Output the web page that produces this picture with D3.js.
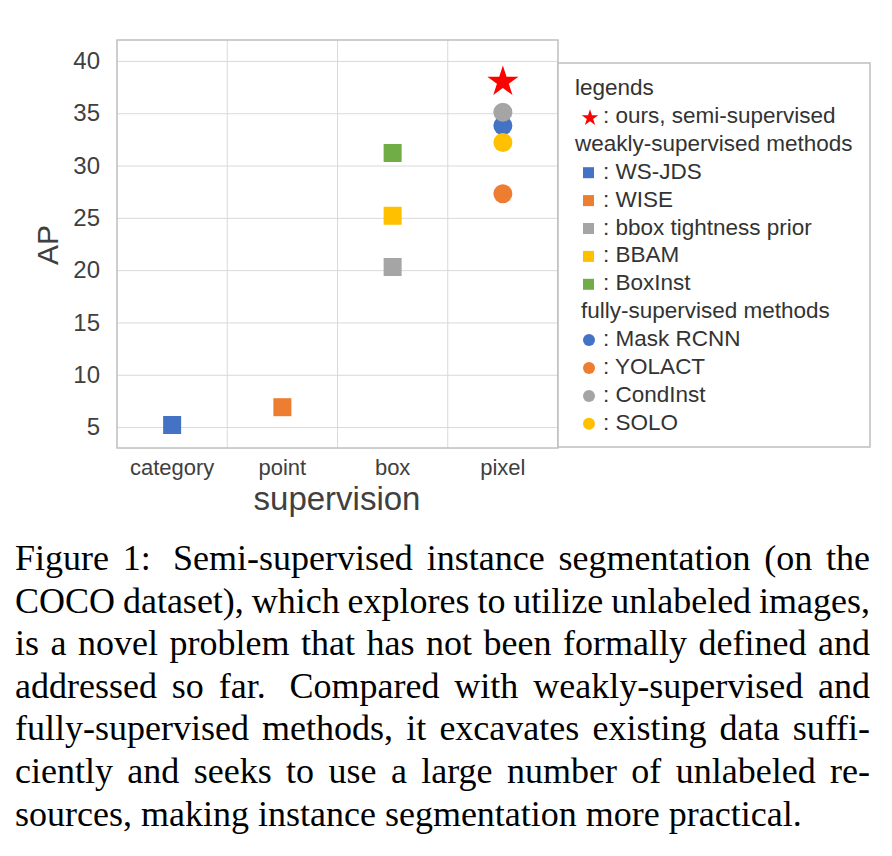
<!DOCTYPE html>
<html lang="en">
<head>
  <meta charset="UTF-8">
  <title>Supervision vs AP</title>
  <script src="https://d3js.org/d3.v7.min.js"></script>
  <style>
    body { margin: 0; background: white; }
    .sans { font-family: "Liberation Sans", Arial, sans-serif; }
    .serif { font-family: "Liberation Serif", "Times New Roman", serif; }
  </style>
</head>
<body>
<div id="chart"></div>
<script>
// supervision levels on the x axis
var categories = ["category", "point", "box", "pixel"];
var yTicks = [5, 10, 15, 20, 25, 30, 35, 40];

// weakly-supervised methods (squares)
var weakNames = ["WS-JDS", "WISE", "bbox tightness prior", "BBAM", "BoxInst"];
var weakSup = ["category", "point", "box", "box", "box"];
var weakAP = [5.2, 6.9, 20.3, 25.2, 31.2];
var weakColors = ["#4472C4", "#ED7D31", "#A5A5A5", "#FFC000", "#70AD47"];

// fully-supervised methods (circles)
var fullNames = ["Mask RCNN", "YOLACT", "CondInst", "SOLO"];
var fullSup = ["pixel", "pixel", "pixel", "pixel"];
var fullAP = [33.8, 27.3, 35.1, 32.2];
var fullColors = ["#4472C4", "#ED7D31", "#A5A5A5", "#FFC000"];

// ours (star)
var oursSup = "pixel";
var oursAP = 38.0;

var captionLines = [
  "Figure 1: Semi-supervised instance segmentation (on the",
  "COCO dataset), which explores to utilize unlabeled images,",
  "is a novel problem that has not been formally defined and",
  "addressed so far. Compared with weakly-supervised and",
  "fully-supervised methods, it excavates existing data suffi-",
  "ciently and seeks to use a large number of unlabeled re-",
  "sources, making instance segmentation more practical."
];

// plot area edges (window.top is reserved, so use other names)
var plotL = 117, plotR = 558, plotT = 40, plotB = 448;
var textColor = "#404040";

var svg = d3.select("#chart").append("svg")
  .attr("width", 892)
  .attr("height", 856);

var x = d3.scaleBand().domain(categories).range([plotL, plotR]);
var y = d3.scaleLinear().domain([3, 42]).range([plotB, plotT]);

// horizontal grid
var grid = svg.append("g")
  .attr("transform", "translate(" + plotL + ",0)")
  .call(d3.axisLeft(y).tickValues(yTicks).tickSize(-(plotR - plotL)).tickFormat(""));
grid.select(".domain").remove();
grid.selectAll("line").attr("stroke", "#D9D9D9").attr("stroke-width", 1);

// vertical grid between categories
svg.append("g").selectAll("line")
  .data(categories.slice(1))
  .enter().append("line")
    .attr("x1", function(d){ return x(d); })
    .attr("x2", function(d){ return x(d); })
    .attr("y1", plotT)
    .attr("y2", plotB)
    .attr("stroke", "#D9D9D9")
    .attr("stroke-width", 1);

// plot frame
svg.append("rect")
  .attr("x", plotL).attr("y", plotT)
  .attr("width", plotR - plotL).attr("height", plotB - plotT)
  .attr("fill", "none")
  .attr("stroke", "#BFBFBF")
  .attr("stroke-width", 1.5);

// y axis labels
var yAxis = svg.append("g")
  .attr("transform", "translate(" + plotL + ",0)")
  .call(d3.axisLeft(y).tickValues(yTicks).tickSize(0).tickPadding(17));
yAxis.select(".domain").remove();
yAxis.selectAll("text").attr("font-size", "24px").attr("fill", textColor)
  .style("font-family", "'Liberation Sans', Arial, sans-serif");

// x axis labels
var xAxis = svg.append("g")
  .attr("transform", "translate(0," + plotB + ")")
  .call(d3.axisBottom(x).tickSize(0).tickPadding(11));
xAxis.select(".domain").remove();
xAxis.selectAll("text").attr("font-size", "22px").attr("fill", textColor)
  .style("font-family", "'Liberation Sans', Arial, sans-serif");

// axis titles
svg.append("text")
  .attr("class", "sans")
  .attr("transform", "translate(58,245) rotate(-90)")
  .attr("text-anchor", "middle")
  .attr("font-size", "30px")
  .attr("fill", textColor)
  .text("AP");

svg.append("text")
  .attr("class", "sans")
  .attr("x", 337).attr("y", 510)
  .attr("text-anchor", "middle")
  .attr("font-size", "33px")
  .attr("fill", textColor)
  .text("supervision");

// markers
var sq = 18;
var weak = weakNames.map(function(n, i){ return {name: n, sup: weakSup[i], ap: weakAP[i], color: weakColors[i]}; });
svg.append("g").selectAll("rect")
  .data(weak)
  .enter().append("rect")
    .attr("x", function(d){ return x(d.sup) + x.bandwidth() / 2 - sq / 2; })
    .attr("y", function(d){ return y(d.ap) - sq / 2; })
    .attr("width", sq)
    .attr("height", sq)
    .attr("fill", function(d){ return d.color; });

var full = fullNames.map(function(n, i){ return {name: n, sup: fullSup[i], ap: fullAP[i], color: fullColors[i]}; });
svg.append("g").selectAll("circle")
  .data(full)
  .enter().append("circle")
    .attr("cx", function(d){ return x(d.sup) + x.bandwidth() / 2; })
    .attr("cy", function(d){ return y(d.ap); })
    .attr("r", 9.5)
    .attr("fill", function(d){ return d.color; });

svg.append("path")
  .attr("d", d3.symbol().type(d3.symbolStar).size(300)())
  .attr("transform", "translate(" + (x(oursSup) + x.bandwidth() / 2) + "," + y(oursAP) + ")")
  .attr("fill", "#FF0000");

// legend
svg.append("rect")
  .attr("x", 558).attr("y", 63)
  .attr("width", 312).attr("height", 384)
  .attr("fill", "white")
  .attr("stroke", "#BFBFBF")
  .attr("stroke-width", 1.5);

var rows = [{kind: "head", text: "legends", x: 575},
            {kind: "star", text: ": ours, semi-supervised", color: "#FF0000"},
            {kind: "head", text: "weakly-supervised methods", x: 575}];
weak.forEach(function(d){ rows.push({kind: "square", text: ": " + d.name, color: d.color}); });
rows.push({kind: "head", text: "fully-supervised methods", x: 581});
full.forEach(function(d){ rows.push({kind: "circle", text: ": " + d.name, color: d.color}); });

var legend = svg.append("g").attr("class", "sans");
rows.forEach(function(r, i){
  var base = 95 + i * 27.9;
  var cy = base - 6;
  if (r.kind === "head") {
    legend.append("text").attr("x", r.x).attr("y", base)
      .attr("font-size", "22.5px").attr("fill", "#333").text(r.text);
    return;
  }
  if (r.kind === "square") {
    legend.append("rect").attr("x", 583).attr("y", cy - 5.5)
      .attr("width", 11).attr("height", 11).attr("fill", r.color);
  } else if (r.kind === "circle") {
    legend.append("circle").attr("cx", 589).attr("cy", cy).attr("r", 6).attr("fill", r.color);
  } else {
    legend.append("path")
      .attr("d", d3.symbol().type(d3.symbolStar).size(85)())
      .attr("transform", "translate(590," + (cy + 1) + ")")
      .attr("fill", r.color);
  }
  legend.append("text").attr("x", 603).attr("y", base)
    .attr("font-size", "22.5px").attr("fill", "#333").text(r.text);
});

// caption, justified word by word (wider gap after ":" and "." like TeX)
var capLeft = 15, capRight = 870, capSize = 36;
var cap = svg.append("g").attr("class", "serif").attr("font-size", capSize + "px").attr("fill", "black");
var probe = cap.append("text");
captionLines.forEach(function(line, i){
  var base = 570 + i * 42.6;
  if (i === captionLines.length - 1) {
    cap.append("text").attr("x", capLeft).attr("y", base).text(line);
    return;
  }
  var words = line.split(" ");
  var widths = words.map(function(w){ probe.text(w); return probe.node().getComputedTextLength(); });
  var weights = words.slice(0, -1).map(function(w){ return /[:.]$/.test(w) ? 1.6 : 1; });
  var unit = (capRight - capLeft - d3.sum(widths)) / d3.sum(weights);
  var pos = capLeft;
  var t = cap.append("text").attr("y", base);
  words.forEach(function(w, j){
    t.append("tspan").attr("x", pos).text(w);
    if (j < weights.length) pos += widths[j] + unit * weights[j];
  });
});
probe.remove();
</script>
</body>
</html>
